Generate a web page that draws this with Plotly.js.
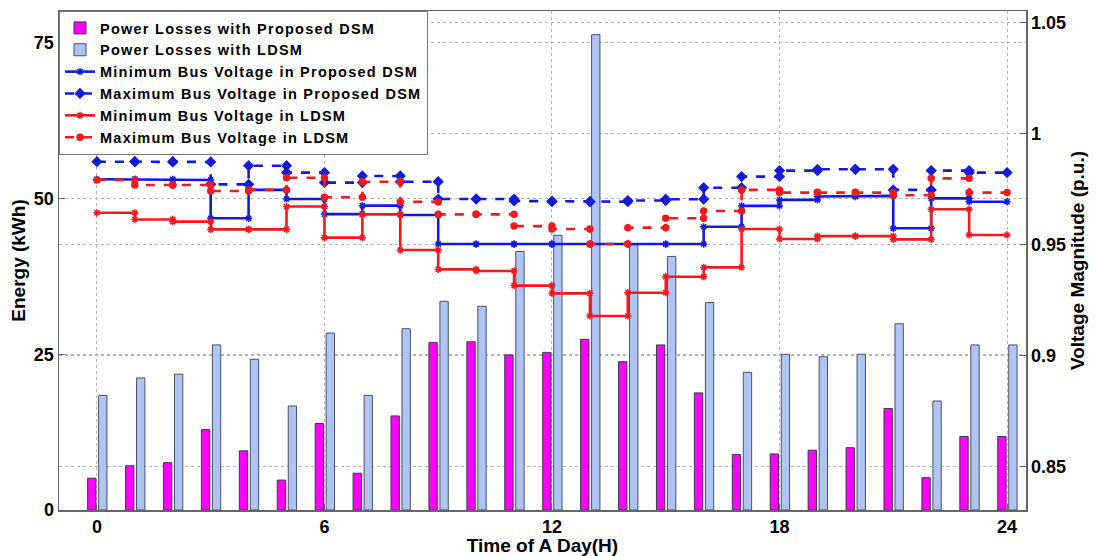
<!DOCTYPE html>
<html>
<head>
<meta charset="utf-8">
<script src="https://cdn.plot.ly/plotly-3.0.1.min.js"></script>
<style>
  html, body { margin: 0; padding: 0; background: #fff; }
  #chart { width: 1096px; height: 556px; }
  /* slightly widened legend lettering to keep entries compact */
  .legendtext { letter-spacing: 1.25px; }
</style>
</head>
<body>
<div id="chart"></div>
<script>
// Hours of the day (bar positions)
const hours = [0, 1, 2, 3, 4, 5, 6, 7, 8, 9, 10, 11, 12, 13, 14, 15, 16, 17, 18, 19, 20, 21, 22, 23, 24];

// Energy losses (kWh)
const lossProposed = [5.1, 7.1, 7.6, 12.9, 9.5, 4.8, 13.9, 5.9, 15.1, 26.9, 27.0, 24.9, 25.3, 27.4, 23.8, 26.5, 18.8, 8.9, 9.0, 9.6, 10.0, 16.3, 5.2, 11.8, 11.8];
const lossLDSM     = [18.4, 21.2, 21.8, 26.5, 24.2, 16.7, 28.4, 18.4, 29.1, 33.5, 32.7, 41.5, 44.1, 76.3, 42.6, 40.7, 33.3, 22.1, 25.0, 24.6, 25.0, 29.9, 17.5, 26.5, 26.5];

// Hourly bus voltages (p.u.), each held from hour h to h+1
const minVProposed = [0.9793, 0.9793, 0.9790, 0.9617, 0.9745, 0.9704, 0.9636, 0.9674, 0.9632, 0.9501, 0.9501, 0.9501, 0.9501, 0.9501, 0.9501, 0.9501, 0.9579, 0.9673, 0.9700, 0.9715, 0.9718, 0.9572, 0.9707, 0.9692];
const maxVProposed = [0.9872, 0.9872, 0.9871, 0.9770, 0.9854, 0.9823, 0.9778, 0.9808, 0.9782, 0.9704, 0.9704, 0.9695, 0.9692, 0.9692, 0.9697, 0.9703, 0.9755, 0.9805, 0.9832, 0.9838, 0.9838, 0.9745, 0.9832, 0.9823];
const minVLDSM     = [0.9642, 0.9612, 0.9602, 0.9567, 0.9567, 0.9670, 0.9530, 0.9635, 0.9474, 0.9387, 0.9380, 0.9314, 0.9279, 0.9177, 0.9282, 0.9354, 0.9396, 0.9569, 0.9524, 0.9537, 0.9537, 0.9522, 0.9658, 0.9542];
const maxVLDSM     = [0.9790, 0.9767, 0.9767, 0.9740, 0.9745, 0.9800, 0.9712, 0.9782, 0.9691, 0.9635, 0.9635, 0.9582, 0.9569, 0.9501, 0.9575, 0.9617, 0.9650, 0.9745, 0.9733, 0.9734, 0.9733, 0.9721, 0.9797, 0.9733];

// Axis ticks
const xTicks = [0, 6, 12, 18, 24];
const energyTicks = [0, 25, 50, 75];
const voltTicks = [0.85, 0.9, 0.95, 1, 1.05];
const voltTickText = ['0.85', '0.9', '0.95', '1', '1.05'];

// Expand hourly values into stair vertices (h, v) -> (h+1, v)
function stairs(vals) {
  const xs = [], ys = [];
  vals.forEach((v, i) => {
    xs.push(hours[i], hours[i + 1]);
    ys.push(v, v);
  });
  return { x: xs, y: ys };
}

const FONT = 'Liberation Sans, Arial, sans-serif';
const BLUE = 'rgb(18, 28, 214)';
const RED = 'rgb(238, 28, 30)';
const GRID = '#b4b4b4';

const traces = [
  {
    type: 'bar', name: 'Power Losses with Proposed DSM',
    x: hours, y: lossProposed, width: 0.22, offset: -0.245,
    marker: { color: '#ff00ff', line: { color: '#3a3a4a', width: 1 } },
    yaxis: 'y'
  },
  {
    type: 'bar', name: 'Power Losses with LDSM',
    x: hours, y: lossLDSM, width: 0.22, offset: 0.045,
    marker: { color: 'rgb(176, 196, 244)', line: { color: '#4a5068', width: 1 } },
    yaxis: 'y'
  }
];

const lineSeries = [
  { name: 'Minimum Bus Voltage in Proposed DSM', vals: minVProposed, color: BLUE, dash: 'solid', symbol: 'asterisk-open', size: 6 },
  { name: 'Maximum Bus Voltage in Proposed DSM', vals: maxVProposed, color: BLUE, dash: 'dash', symbol: 'diamond', size: 7 },
  { name: 'Minimum Bus Voltage in LDSM', vals: minVLDSM, color: RED, dash: 'solid', symbol: 'asterisk-open', size: 6 },
  { name: 'Maximum Bus Voltage in LDSM', vals: maxVLDSM, color: RED, dash: 'dash', symbol: 'circle', size: 6 }
];

lineSeries.forEach(s => {
  const st = stairs(s.vals);
  traces.push({
    type: 'scatter', mode: 'lines+markers', name: s.name,
    x: st.x, y: st.y, yaxis: 'y2',
    line: { color: s.color, width: 2.6, dash: s.dash },
    marker: { color: s.color, symbol: s.symbol, size: s.size, line: { color: s.color, width: 1.5 } }
  });
});

const layout = {
  width: 1096, height: 556,
  margin: { l: 59, r: 70, t: 11, b: 46 },
  paper_bgcolor: '#fff', plot_bgcolor: '#fff',
  barmode: 'overlay',
  showlegend: true,
  font: { family: FONT, color: '#000' },
  legend: {
    x: 0, y: 1, xanchor: 'left', yanchor: 'top',
    bgcolor: '#fff', bordercolor: '#777', borderwidth: 1,
    font: { family: FONT, size: 14.5, weight: 'bold', color: '#000' },
    tracegroupgap: 0, itemwidth: 30, traceorder: 'normal'
  },
  xaxis: {
    range: [-1, 24.5], tickvals: xTicks, ticktext: xTicks.map(String),
    showline: true, linecolor: '#666', linewidth: 1.5, mirror: true,
    ticks: 'inside', ticklen: 6, tickcolor: '#666',
    showgrid: true, gridcolor: GRID, griddash: 'dot', gridwidth: 1,
    zeroline: false,
    tickfont: { family: FONT, size: 18, weight: 'bold', color: '#000' },
    title: { text: 'Time of A Day(H)', font: { family: FONT, size: 19, weight: 'bold', color: '#000' }, standoff: 2 }
  },
  yaxis: {
    range: [0, 80.1], tickvals: energyTicks, ticktext: energyTicks.map(String),
    showline: true, linecolor: '#666', linewidth: 1.5,
    ticks: 'inside', ticklen: 6, tickcolor: '#666',
    showgrid: true, gridcolor: GRID, griddash: 'dot', gridwidth: 1,
    zeroline: false,
    tickfont: { family: FONT, size: 18, weight: 'bold', color: '#000' },
    title: { text: 'Energy (kWh)', font: { family: FONT, size: 19, weight: 'bold', color: '#000' }, standoff: 3 }
  },
  yaxis2: {
    overlaying: 'y', side: 'right',
    range: [0.8303, 1.0551], tickvals: voltTicks, ticktext: voltTickText,
    showline: true, linecolor: '#666', linewidth: 1.5,
    ticks: 'inside', ticklen: 6, tickcolor: '#666',
    showgrid: true, gridcolor: GRID, griddash: 'dot', gridwidth: 1,
    zeroline: false,
    tickfont: { family: FONT, size: 18, weight: 'bold', color: '#000' },
    title: { text: 'Voltage Magnitude (p.u.)', font: { family: FONT, size: 19, weight: 'bold', color: '#000' }, standoff: 5 }
  }
};

Plotly.newPlot('chart', traces, layout, { displayModeBar: false, staticPlot: true });
</script>
</body>
</html>
